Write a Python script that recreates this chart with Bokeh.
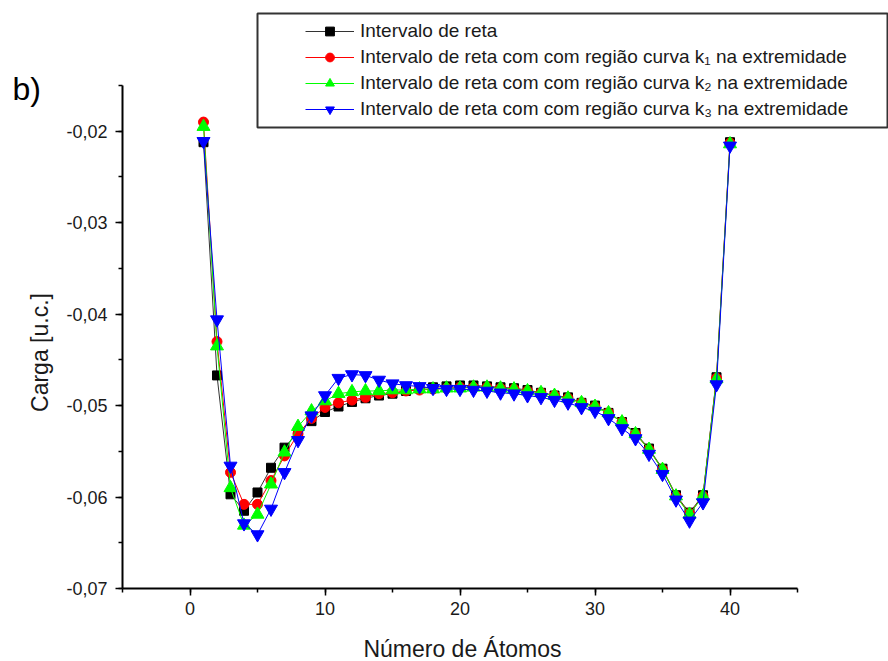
import math
from bokeh.plotting import figure
from bokeh.models import (Range1d, SingleIntervalTicker, CustomJSTickFormatter,
                          Legend, LegendItem, BoxAnnotation, Label)
from bokeh.embed import file_html
from bokeh.resources import INLINE

# ---------------- data ----------------
atoms = list(range(1, 41))

reta = [-0.0212, -0.0467, -0.0597, -0.0615, -0.0595, -0.0568, -0.0546, -0.0529, -0.0517, -0.0507,
        -0.0501, -0.0496, -0.0492, -0.0489, -0.0487, -0.0484, -0.0481, -0.0480, -0.0479, -0.0478,
        -0.0478, -0.0479, -0.0480, -0.0481, -0.0483, -0.0486, -0.0489, -0.0491, -0.0497, -0.0500,
        -0.0508, -0.0518, -0.0530, -0.0547, -0.0569, -0.0598, -0.0617, -0.0598, -0.0469, -0.0212]

curva_k1 = [-0.0190, -0.0430, -0.0573, -0.0608, -0.0608, -0.0582, -0.0555, -0.0531, -0.0514, -0.0502,
            -0.0497, -0.0494, -0.0491, -0.0487, -0.0486, -0.0484, -0.0483, -0.0482, -0.0481, -0.0480,
            -0.0480, -0.0480, -0.0481, -0.0482, -0.0484, -0.0486, -0.0489, -0.0492, -0.0497, -0.0501,
            -0.0508, -0.0518, -0.0531, -0.0548, -0.0570, -0.0599, -0.0618, -0.0599, -0.0470, -0.0213]

curva_k2 = [-0.0195, -0.0435, -0.0590, -0.0631, -0.0619, -0.0586, -0.0551, -0.0523, -0.0506, -0.0495,
            -0.0487, -0.0485, -0.0484, -0.0484, -0.0483, -0.0483, -0.0482, -0.0482, -0.0481, -0.0481,
            -0.0480, -0.0480, -0.0481, -0.0482, -0.0484, -0.0486, -0.0489, -0.0492, -0.0497, -0.0501,
            -0.0508, -0.0518, -0.0531, -0.0548, -0.0570, -0.0599, -0.0619, -0.0599, -0.0471, -0.0214]

curva_k3 = [-0.0211, -0.0406, -0.0566, -0.0629, -0.0641, -0.0613, -0.0573, -0.0538, -0.0511, -0.0489,
            -0.0470, -0.0466, -0.0467, -0.0472, -0.0476, -0.0478, -0.0479, -0.0481, -0.0482, -0.0482,
            -0.0483, -0.0484, -0.0486, -0.0487, -0.0489, -0.0491, -0.0494, -0.0497, -0.0502, -0.0506,
            -0.0514, -0.0525, -0.0536, -0.0553, -0.0575, -0.0603, -0.0626, -0.0606, -0.0477, -0.0216]

series_labels = [
    "Intervalo de reta",
    "Intervalo de reta com com região curva k\u2081 na extremidade",
    "Intervalo de reta com com região curva k\u2082 na extremidade",
    "Intervalo de reta com com região curva k\u2083 na extremidade",
]
x_title = "Número de Átomos"
y_title = "Carga [u.c.]"
panel_tag = "b)"

# ---------------- layout ----------------
FONT = "Liberation Sans"
W, H = 888, 661
X0, X1 = -5, 45            # axis bounds (data)
Y0, Y1 = -0.07, -0.015
AX_L, AX_R, AX_T, AX_B = 122, 797, 85, 588   # where the axes sit on the canvas (px)
SX = (AX_R - AX_L) / (X1 - X0)
SY = (AX_B - AX_T) / (Y1 - Y0)


def cx(px):  # canvas px -> data x
    return X0 + (px - AX_L) / SX


def cy(py):  # canvas py -> data y
    return Y1 - (py - AX_T) / SY


p = figure(width=W, height=H, output_backend="svg", toolbar_location=None,
           x_range=Range1d(cx(0), cx(W)), y_range=Range1d(cy(H), cy(0)),
           min_border=0)
p.outline_line_color = None
p.grid.visible = False
p.background_fill_color = "white"
p.border_fill_color = "white"

p.xaxis.ticker = SingleIntervalTicker(interval=10, num_minor_ticks=2)
p.yaxis.ticker = SingleIntervalTicker(interval=0.01, num_minor_ticks=2)
p.yaxis.formatter = CustomJSTickFormatter(code="return tick.toFixed(2).replace('.', ',');")
p.xaxis.bounds = (X0, X1)
p.yaxis.bounds = (Y0, Y1)
p.xaxis.fixed_location = Y0
p.yaxis.fixed_location = X0

for ax in (p.xaxis[0], p.yaxis[0]):
    ax.axis_line_width = 2
    ax.axis_line_color = "black"
    ax.major_tick_line_width = 1.5
    ax.major_tick_line_color = "black"
    ax.minor_tick_line_width = 1.5
    ax.minor_tick_line_color = "black"
    ax.major_tick_out = 7
    ax.major_tick_in = 0
    ax.minor_tick_out = 4
    ax.minor_tick_in = 0
    ax.major_label_text_font = FONT
    ax.major_label_text_font_size = "18px"
    ax.major_label_text_color = "#1a1a1a"
p.xaxis.major_label_standoff = 6
p.yaxis.major_label_standoff = 8

styles = [
    (reta, "#000000", "#333333", "square", 9),
    (curva_k1, "#ff0000", "#ff0000", "circle", 10),
    (curva_k2, "#00ff00", "#00ff00", "triangle", 13),
    (curva_k3, "#0000ff", "#0000ff", "inverted_triangle", 13),
]

items = []
for (ys, mcol, lcol, mk, sz), lab in zip(styles, series_labels):
    lr = p.line(atoms, ys, line_color=lcol, line_width=1)
    sr = p.scatter(atoms, ys, marker=mk, size=sz, fill_color=mcol, line_color=mcol)
    items.append(LegendItem(label=lab, renderers=[lr, sr]))

# axis titles and panel tag
p.add_layout(Label(x=cx(462), y=cy(648), text=x_title, text_font=FONT, text_font_size="23px",
                   text_color="#1a1a1a", text_align="center", text_baseline="middle"))
p.add_layout(Label(x=cx(39), y=cy(352), text=y_title, text_font=FONT, text_font_size="23px",
                   text_color="#1a1a1a", text_align="center", text_baseline="middle",
                   angle=math.pi / 2))
p.add_layout(Label(x=cx(12), y=cy(88), text=panel_tag, text_font=FONT, text_font_size="32px",
                   text_color="black", text_baseline="alphabetic"))

# legend frame + legend
p.add_layout(BoxAnnotation(left=cx(257), right=cx(887), top=cy(13), bottom=cy(127),
                           fill_alpha=0, line_color="#333333", line_alpha=1.0, line_width=2))

legend = Legend(items=items, location=(305, H - 120), padding=0, margin=0,
                spacing=4, glyph_width=49, glyph_height=22, label_height=22,
                label_standoff=6, label_text_font=FONT, label_text_font_size="19px",
                label_text_color="#1a1a1a",
                border_line_alpha=0, background_fill_alpha=0)
p.add_layout(legend)

open("out.html", "w").write(file_html(p, INLINE))
